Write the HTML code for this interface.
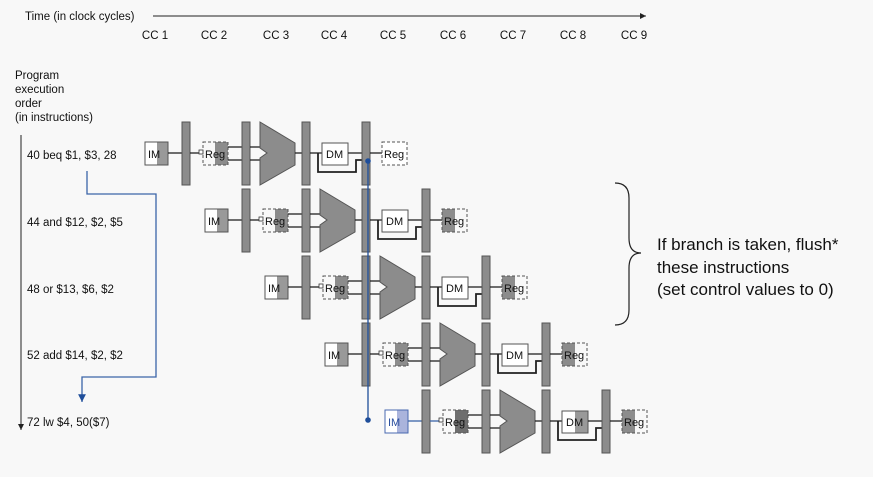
<!DOCTYPE html>
<html><head><meta charset="utf-8"><style>
html,body{margin:0;padding:0;background:#f8f8f8;}
svg{display:block;font-family:"Liberation Sans",sans-serif;}
.b{fill:#8c8c8c;stroke:#555;stroke-width:1}
.l{stroke:#222;stroke-width:1.3;fill:none}
.t{font-size:11px;fill:#111}
</style></head><body>
<svg width="873" height="477" viewBox="0 0 873 477" xmlns="http://www.w3.org/2000/svg">
<defs>
<marker id="ar" markerWidth="8" markerHeight="8" refX="6" refY="3" orient="auto"><path d="M0,0 L6,3 L0,6 z" fill="#222"/></marker>
<marker id="ab" markerWidth="8" markerHeight="8" refX="6" refY="3" orient="auto"><path d="M0,0 L6,3 L0,6 z" fill="#1f4e9a"/></marker>
</defs>
<text x="25" y="20" class="t" style="font-size:11.5px">Time (in clock cycles)</text>
<line x1="153" y1="16" x2="646" y2="16" stroke="#222" stroke-width="1" marker-end="url(#ar)"/>
<g class="t" text-anchor="middle" style="font-size:11.5px">
<text x="155" y="39">CC 1</text><text x="214" y="39">CC 2</text><text x="276" y="39">CC 3</text><text x="334" y="39">CC 4</text><text x="393" y="39">CC 5</text><text x="453" y="39">CC 6</text><text x="513" y="39">CC 7</text><text x="573" y="39">CC 8</text><text x="634" y="39">CC 9</text>
</g>
<g class="t" style="font-size:11.5px">
<text x="15" y="79">Program</text><text x="15" y="93">execution</text><text x="15" y="107">order</text><text x="15" y="121">(in instructions)</text>
<text x="27" y="159">40 beq $1, $3, 28</text>
<text x="27" y="226">44 and $12, $2, $5</text>
<text x="27" y="293">48 or $13, $6, $2</text>
<text x="27" y="359">52 add $14, $2, $2</text>
<text x="27" y="426">72 lw $4, 50($7)</text>
</g>
<line x1="21" y1="135" x2="21" y2="430" stroke="#222" stroke-width="1" marker-end="url(#ar)"/>
<polyline points="87,171 87,194 156,194 156,377 82,377 82,402" fill="none" stroke="#3b64a8" stroke-width="1.3" marker-end="url(#ab)"/>

<!-- brace -->
<path d="M615,183 Q629,183 629,198 L629,238 Q629,253 641,253 Q629,253 629,268 L629,310 Q629,325 615,325" fill="none" stroke="#222" stroke-width="1.2"/>
<g style="font-size:17px" fill="#111">
<text x="657" y="250">If branch is taken, flush*</text>
<text x="657" y="273">these instructions</text>
<text x="657" y="295">(set control values to 0)</text>
</g>

<!-- rows -->
<g id="r1">
<rect x="145" y="142" width="23" height="23" fill="#fff" stroke="#555"/><rect x="157" y="142" width="11" height="23" fill="#999" stroke="none"/><rect x="145" y="142" width="23" height="23" fill="none" stroke="#555"/>
<text x="148" y="158" class="t">IM</text>
<line x1="168" y1="153" x2="182" y2="153" class="l"/>
<rect x="182" y="122" width="8" height="63" class="b"/>
<line x1="190" y1="153" x2="200" y2="153" class="l"/><rect x="199" y="150" width="4" height="4" fill="#fff" stroke="#333" stroke-width="0.8"/>
<rect x="215" y="142" width="13" height="23" fill="#8c8c8c"/><rect x="203" y="142" width="25" height="23" fill="none" stroke="#555" stroke-dasharray="3,2"/>
<text x="205" y="158" class="t">Reg</text>
<line x1="228" y1="147" x2="242" y2="147" class="l"/><line x1="228" y1="160" x2="242" y2="160" class="l"/>
<rect x="242" y="122" width="8" height="63" class="b"/>
<line x1="250" y1="147" x2="262" y2="147" class="l"/><line x1="250" y1="160" x2="262" y2="160" class="l"/>
<polygon points="260,122 295,143 295,165 260,185 260,158 267,153 260,148" fill="#8c8c8c" stroke="#555"/>
<line x1="295" y1="153" x2="302" y2="153" class="l"/>
<rect x="302" y="122" width="8" height="63" class="b"/>
<line x1="310" y1="153" x2="322" y2="153" class="l"/>
<polyline points="318,153 318,172 356,172 356,160 362,160" class="l" style="stroke-width:1.8"/>
<rect x="322" y="143" width="26" height="22" fill="#fff" stroke="#555"/><text x="326" y="158" class="t">DM</text>
<line x1="348" y1="153" x2="362" y2="153" class="l"/>
<rect x="362" y="122" width="8" height="63" class="b"/>
<line x1="370" y1="153" x2="382" y2="153" class="l"/>
<rect x="382" y="142" width="25" height="23" fill="#fff" stroke="#555" stroke-dasharray="3,2"/><text x="384" y="158" class="t">Reg</text>
</g>

<g transform="translate(60,67)">
<rect x="145" y="142" width="23" height="23" fill="#fff"/><rect x="157" y="142" width="11" height="23" fill="#999"/><rect x="145" y="142" width="23" height="23" fill="none" stroke="#555"/>
<text x="148" y="158" class="t">IM</text>
<line x1="168" y1="153" x2="182" y2="153" class="l"/>
<rect x="182" y="122" width="8" height="63" class="b"/>
<line x1="190" y1="153" x2="200" y2="153" class="l"/><rect x="199" y="150" width="4" height="4" fill="#fff" stroke="#333" stroke-width="0.8"/>
<rect x="215" y="142" width="13" height="23" fill="#8c8c8c"/><rect x="203" y="142" width="25" height="23" fill="none" stroke="#555" stroke-dasharray="3,2"/>
<text x="205" y="158" class="t">Reg</text>
<line x1="228" y1="147" x2="242" y2="147" class="l"/><line x1="228" y1="160" x2="242" y2="160" class="l"/>
<rect x="242" y="122" width="8" height="63" class="b"/>
<line x1="250" y1="147" x2="262" y2="147" class="l"/><line x1="250" y1="160" x2="262" y2="160" class="l"/>
<polygon points="260,122 295,143 295,165 260,185 260,158 267,153 260,148" fill="#8c8c8c" stroke="#555"/>
<line x1="295" y1="153" x2="302" y2="153" class="l"/>
<rect x="302" y="122" width="8" height="63" class="b"/>
<line x1="310" y1="153" x2="322" y2="153" class="l"/>
<polyline points="318,153 318,172 356,172 356,160 362,160" class="l" style="stroke-width:1.8"/>
<rect x="322" y="143" width="26" height="22" fill="#fff" stroke="#555"/><text x="326" y="158" class="t">DM</text>
<line x1="348" y1="153" x2="362" y2="153" class="l"/>
<rect x="362" y="122" width="8" height="63" class="b"/>
<line x1="370" y1="153" x2="382" y2="153" class="l"/>
<rect x="382" y="142" width="13" height="23" fill="#8c8c8c"/><rect x="382" y="142" width="25" height="23" fill="none" stroke="#555" stroke-dasharray="3,2"/><text x="384" y="158" class="t">Reg</text>
</g>

<g transform="translate(120,134)">
<rect x="145" y="142" width="23" height="23" fill="#fff"/><rect x="157" y="142" width="11" height="23" fill="#999"/><rect x="145" y="142" width="23" height="23" fill="none" stroke="#555"/>
<text x="148" y="158" class="t">IM</text>
<line x1="168" y1="153" x2="182" y2="153" class="l"/>
<rect x="182" y="122" width="8" height="63" class="b"/>
<line x1="190" y1="153" x2="200" y2="153" class="l"/><rect x="199" y="150" width="4" height="4" fill="#fff" stroke="#333" stroke-width="0.8"/>
<rect x="215" y="142" width="13" height="23" fill="#8c8c8c"/><rect x="203" y="142" width="25" height="23" fill="none" stroke="#555" stroke-dasharray="3,2"/>
<text x="205" y="158" class="t">Reg</text>
<line x1="228" y1="147" x2="242" y2="147" class="l"/><line x1="228" y1="160" x2="242" y2="160" class="l"/>
<rect x="242" y="122" width="8" height="63" class="b"/>
<line x1="250" y1="147" x2="262" y2="147" class="l"/><line x1="250" y1="160" x2="262" y2="160" class="l"/>
<polygon points="260,122 295,143 295,165 260,185 260,158 267,153 260,148" fill="#8c8c8c" stroke="#555"/>
<line x1="295" y1="153" x2="302" y2="153" class="l"/>
<rect x="302" y="122" width="8" height="63" class="b"/>
<line x1="310" y1="153" x2="322" y2="153" class="l"/>
<polyline points="318,153 318,172 356,172 356,160 362,160" class="l" style="stroke-width:1.8"/>
<rect x="322" y="143" width="26" height="22" fill="#fff" stroke="#555"/><text x="326" y="158" class="t">DM</text>
<line x1="348" y1="153" x2="362" y2="153" class="l"/>
<rect x="362" y="122" width="8" height="63" class="b"/>
<line x1="370" y1="153" x2="382" y2="153" class="l"/>
<rect x="382" y="142" width="13" height="23" fill="#8c8c8c"/><rect x="382" y="142" width="25" height="23" fill="none" stroke="#555" stroke-dasharray="3,2"/><text x="384" y="158" class="t">Reg</text>
</g>

<g transform="translate(180,201)">
<rect x="145" y="142" width="23" height="23" fill="#fff"/><rect x="157" y="142" width="11" height="23" fill="#999"/><rect x="145" y="142" width="23" height="23" fill="none" stroke="#555"/>
<text x="148" y="158" class="t">IM</text>
<line x1="168" y1="153" x2="182" y2="153" class="l"/>
<rect x="182" y="122" width="8" height="63" class="b"/>
<line x1="190" y1="153" x2="200" y2="153" class="l"/><rect x="199" y="150" width="4" height="4" fill="#fff" stroke="#333" stroke-width="0.8"/>
<rect x="215" y="142" width="13" height="23" fill="#8c8c8c"/><rect x="203" y="142" width="25" height="23" fill="none" stroke="#555" stroke-dasharray="3,2"/>
<text x="205" y="158" class="t">Reg</text>
<line x1="228" y1="147" x2="242" y2="147" class="l"/><line x1="228" y1="160" x2="242" y2="160" class="l"/>
<rect x="242" y="122" width="8" height="63" class="b"/>
<line x1="250" y1="147" x2="262" y2="147" class="l"/><line x1="250" y1="160" x2="262" y2="160" class="l"/>
<polygon points="260,122 295,143 295,165 260,185 260,158 267,153 260,148" fill="#8c8c8c" stroke="#555"/>
<line x1="295" y1="153" x2="302" y2="153" class="l"/>
<rect x="302" y="122" width="8" height="63" class="b"/>
<line x1="310" y1="153" x2="322" y2="153" class="l"/>
<polyline points="318,153 318,172 356,172 356,160 362,160" class="l" style="stroke-width:1.8"/>
<rect x="322" y="143" width="26" height="22" fill="#fff" stroke="#555"/><text x="326" y="158" class="t">DM</text>
<line x1="348" y1="153" x2="362" y2="153" class="l"/>
<rect x="362" y="122" width="8" height="63" class="b"/>
<line x1="370" y1="153" x2="382" y2="153" class="l"/>
<rect x="382" y="142" width="13" height="23" fill="#8c8c8c"/><rect x="382" y="142" width="25" height="23" fill="none" stroke="#555" stroke-dasharray="3,2"/><text x="384" y="158" class="t">Reg</text>
</g>

<g transform="translate(240,268)">
<rect x="145" y="142" width="23" height="23" fill="#fff"/><rect x="157" y="142" width="11" height="23" fill="#aab4dc"/><rect x="145" y="142" width="23" height="23" fill="none" stroke="#4a6ab0"/>
<text x="148" y="158" class="t" style="fill:#2a4f9e">IM</text>
<line x1="168" y1="153" x2="182" y2="153" stroke="#3b64a8" stroke-width="1.3"/>
<rect x="182" y="122" width="8" height="63" class="b"/>
<line x1="190" y1="153" x2="200" y2="153" stroke="#3b64a8" stroke-width="1.3"/><rect x="199" y="150" width="4" height="4" fill="#fff" stroke="#333" stroke-width="0.8"/>
<rect x="215" y="142" width="13" height="23" fill="#6e6e6e"/><rect x="203" y="142" width="25" height="23" fill="none" stroke="#555" stroke-dasharray="3,2"/>
<text x="205" y="158" class="t">Reg</text>
<line x1="228" y1="147" x2="242" y2="147" class="l"/><line x1="228" y1="160" x2="242" y2="160" class="l"/>
<rect x="242" y="122" width="8" height="63" class="b"/>
<line x1="250" y1="147" x2="262" y2="147" class="l"/><line x1="250" y1="160" x2="262" y2="160" class="l"/>
<polygon points="260,122 295,143 295,165 260,185 260,158 267,153 260,148" fill="#8c8c8c" stroke="#555"/>
<line x1="295" y1="153" x2="302" y2="153" class="l"/>
<rect x="302" y="122" width="8" height="63" class="b"/>
<line x1="310" y1="153" x2="322" y2="153" class="l"/>
<polyline points="318,153 318,172 356,172 356,160 362,160" class="l" style="stroke-width:1.8"/>
<rect x="322" y="143" width="26" height="22" fill="#fff" stroke="#555"/><rect x="335" y="143" width="13" height="22" fill="#999"/><rect x="322" y="143" width="26" height="22" fill="none" stroke="#555"/><text x="326" y="158" class="t">DM</text>
<line x1="348" y1="153" x2="362" y2="153" class="l"/>
<rect x="362" y="122" width="8" height="63" class="b"/>
<line x1="370" y1="153" x2="382" y2="153" class="l"/>
<rect x="382" y="142" width="13" height="23" fill="#8c8c8c"/><rect x="382" y="142" width="25" height="23" fill="none" stroke="#555" stroke-dasharray="3,2"/><text x="384" y="158" class="t">Reg</text>
</g>

<!-- blue branch line -->
<line x1="368" y1="161" x2="368" y2="420" stroke="#1f4e9a" stroke-width="1.3"/>
<circle cx="368" cy="161" r="2.8" fill="#1f4e9a"/>
<circle cx="368" cy="420" r="2.8" fill="#1f4e9a"/>
</svg>
</body></html>
